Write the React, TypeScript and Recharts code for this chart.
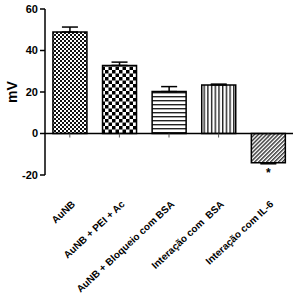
import React from "react";
import {
  Bar,
  BarChart,
  Cell,
  ErrorBar,
  LabelList,
  ReferenceDot,
  ReferenceLine,
  XAxis,
  YAxis,
} from "recharts";

const categories = [
  "AuNB",
  "AuNB + PEI + Ac",
  "AuNB + Bloqueio com BSA",
  "Interação com  BSA",
  "Interação com IL-6",
];
const values = [48.9, 32.8, 20.2, 23.4, -14.1];
const errors = [2.4, 1.6, 2.4, 0.4, 0.5];
const marks = ["", "", "", "", "*"];
const yTicks = [-20, 0, 20, 40, 60];

const data = categories.map((name, i) => ({
  name,
  value: values[i],
  err: values[i] >= 0 ? [0, errors[i]] : [errors[i], 0],
  mark: marks[i],
}));

const font = "'Liberation Sans', Arial, sans-serif";

function Patterns() {
  return (
    <svg width={0} height={0} style={{ position: "absolute" }}>
      <defs>
        <pattern id="p0" width={4} height={4} patternUnits="userSpaceOnUse">
          <rect width={4} height={4} fill="#fff" />
          <rect x={0} y={0} width={2} height={2} fill="#111" />
          <rect x={2} y={2} width={2} height={2} fill="#111" />
        </pattern>
        <pattern id="p1" width={7} height={7} patternUnits="userSpaceOnUse">
          <rect width={7} height={7} fill="#fff" />
          <rect x={0} y={0} width={3.5} height={3.5} fill="#000" />
          <rect x={3.5} y={3.5} width={3.5} height={3.5} fill="#000" />
        </pattern>
        <pattern id="p2" width={4} height={4} patternUnits="userSpaceOnUse">
          <rect width={4} height={4} fill="#fff" />
          <rect x={0} y={0} width={4} height={1.4} fill="#222" />
        </pattern>
        <pattern id="p3" width={3.7} height={4} patternUnits="userSpaceOnUse">
          <rect width={3.7} height={4} fill="#fff" />
          <rect x={0} y={0} width={1.4} height={4} fill="#222" />
        </pattern>
        <pattern
          id="p4"
          width={2.8}
          height={4}
          patternUnits="userSpaceOnUse"
          patternTransform="rotate(45)"
        >
          <rect width={2.8} height={4} fill="#fff" />
          <rect x={0} y={0} width={1.3} height={4} fill="#222" />
        </pattern>
      </defs>
    </svg>
  );
}

function CategoryTick(props: any) {
  const { x, y, payload } = props;
  const tx = x + 6;
  const ty = y + 22;
  return (
    <text
      x={tx}
      y={ty}
      textAnchor="end"
      transform={`rotate(-43 ${tx} ${ty})`}
      fontSize={10}
      fontWeight="bold"
      fontFamily={font}
      fill="#000"
      style={{ whiteSpace: "pre" }}
    >
      {payload.value}
    </text>
  );
}

function ZeroTick(props: any) {
  const { cx, cy } = props;
  return <line x1={cx} y1={cy} x2={cx} y2={cy + 4} stroke="#555" strokeWidth={1} />;
}

function MarkLabel(props: any) {
  const { x, y, width, height, value } = props;
  if (!value) return null;
  const bottom = Math.max(y, y + height);
  return (
    <text
      x={x + width / 2}
      y={bottom + 14}
      textAnchor="middle"
      fontSize={12}
      fontWeight="bold"
      fontFamily={font}
      fill="#000"
    >
      {value}
    </text>
  );
}

export default function App() {
  return (
    <div style={{ position: "absolute", left: 0, top: 0 }}>
      <Patterns />
      <BarChart
        width={298}
        height={301}
        data={data}
        margin={{ top: 9, right: 5, bottom: 0, left: 0 }}
        barCategoryGap="16%"
      >
        <XAxis
          dataKey="name"
          axisLine={false}
          tickLine={false}
          interval={0}
          height={126}
          tick={<CategoryTick />}
        />
        <YAxis
          domain={[-20, 60]}
          ticks={yTicks}
          width={45}
          stroke="#000"
          strokeWidth={1.5}
          tickSize={5}
          tickMargin={2}
          tick={{ fontSize: 11, fontWeight: "bold", fill: "#000", fontFamily: font }}
          label={{
            value: "mV",
            angle: -90,
            position: "insideLeft",
            offset: 12,
            style: { fontSize: 14, fontWeight: "bold", fill: "#000", fontFamily: font, textAnchor: "middle" },
          }}
        />
        <Bar dataKey="value" isAnimationActive={false}>
          {data.map((_, i) => (
            <Cell key={i} fill={`url(#p${i})`} stroke="#000" strokeWidth={1.5} />
          ))}
          <ErrorBar dataKey="err" direction="y" width={8} stroke="#000" strokeWidth={1.5} />
          <LabelList dataKey="mark" content={<MarkLabel />} />
        </Bar>
        <ReferenceLine y={0} stroke="#000" strokeWidth={1.5} />
        {categories.map((c) => (
          <ReferenceDot key={c} x={c} y={0} shape={<ZeroTick />} />
        ))}
      </BarChart>
    </div>
  );
}
